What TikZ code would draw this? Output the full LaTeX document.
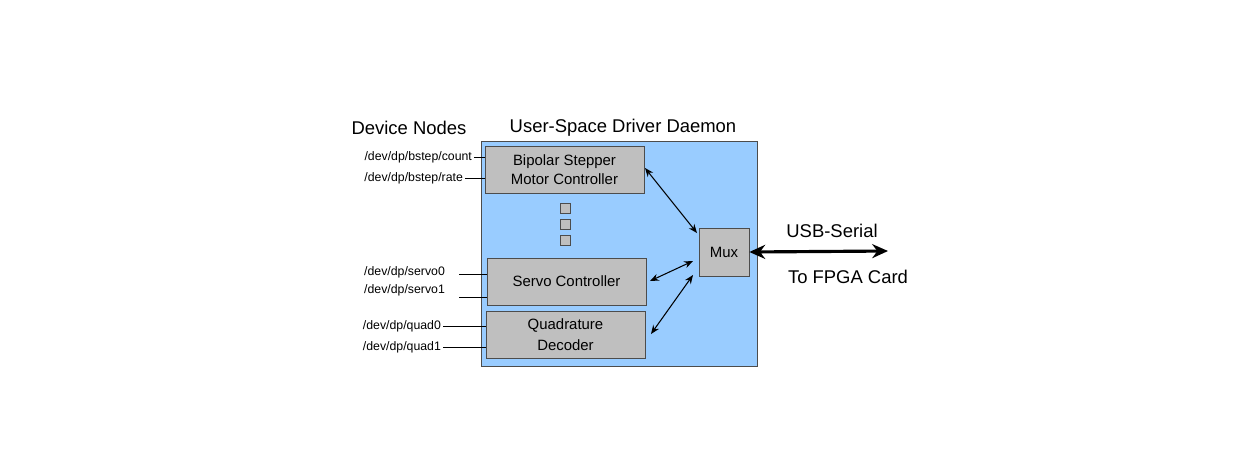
\documentclass[tikz,border=0pt]{standalone}
\usepackage{fontspec}
\setmainfont{Liberation Sans}
\usetikzlibrary{arrows.meta}
\begin{document}
\begin{tikzpicture}[x=0.02cm,y=-0.02cm,
  blk/.style={draw=black!70,fill=black!25,inner sep=0pt,font=\fontsize{8.5}{10}\selectfont,align=center},
  dev/.style={anchor=east,inner sep=1pt,font=\fontsize{7}{8}\selectfont},
  ttl/.style={font=\fontsize{10.5}{12}\selectfont},
  biarrow/.style={{Stealth[length=5pt,width=4pt]}-{Stealth[length=5pt,width=4pt]},thick}]
\useasboundingbox (0,0) rectangle (1251,451);
% daemon box
\draw[black!70,fill={rgb,255:red,153;green,204;blue,255}] (481,141) rectangle (757,366);
\node[ttl] (tdev) at (409,128) {Device Nodes};
\node[ttl] (tdae) at (623,128) {User-Space Driver Daemon};
% blocks
\node[blk,minimum width=159\pgflinewidth] (bip) at (564.5,169.5) {};
\draw[black!70,fill=black!25] (485,146) rectangle (644,193);
\node[font=\fontsize{8.5}{11}\selectfont,align=center] (bipt) at (564.5,169.5) {Bipolar Stepper\\Motor Controller};
\coordinate (bipE) at (644,169.5);
\node[blk,minimum width=3.18cm,minimum height=0.94cm] (servo) at (566.5,281.5) {Servo Controller};
\node[blk,minimum width=3.18cm,minimum height=0.94cm] (quad) at (565.5,334.5) {Quadrature\\[2pt]Decoder};
\node[blk,minimum width=1cm,minimum height=0.96cm] (mux) at (724,252) {Mux};
\foreach \y/\n in {208/a,224/b,240/c}
  \node[blk,minimum size=0.2cm] (dot\n) at (565,\y) {};
% device nodes
\node[dev] (n1) at (474,157) {/dev/dp/bstep/count};
\node[dev] (n2) at (465,178) {/dev/dp/bstep/rate};
\node[dev] (n3) at (447,272) {/dev/dp/servo0};
\node[dev] (n4) at (447,290) {/dev/dp/servo1};
\node[dev] (n5) at (443,326) {/dev/dp/quad0};
\node[dev] (n6) at (443,347) {/dev/dp/quad1};
\coordinate (c1) at (485,157);
\coordinate (c2) at (485,178);
\coordinate (c3a) at (459,274);
\coordinate (c3) at (487,274);
\coordinate (c4a) at (459,297);
\coordinate (c4) at (487,297);
\coordinate (c5) at (486,326);
\coordinate (c6) at (486,347);
\draw (n1) -- (c1);
\draw (n2) -- (c2);
\draw (c3a) -- (c3);
\draw (c4a) -- (c4);
\draw (n5) -- (c5);
\draw (n6) -- (c6);
% links to mux
\coordinate (b1) at (645,168);
\coordinate (m1) at (697,233);
\coordinate (s1) at (650,281);
\coordinate (m2) at (693,261);
\coordinate (q1) at (651,334);
\coordinate (m3) at (693,275);
\draw[biarrow,semithick] (b1) -- (m1);
\draw[biarrow,semithick] (s1) -- (m2);
\draw[biarrow,semithick] (q1) -- (m3);
% usb
\coordinate (usb) at (888,251);
\draw[{Stealth[length=9pt,width=8pt]}-{Stealth[length=9pt,width=8pt]},line width=1.8pt] (mux.east) -- (usb);
\node[ttl] (lusb) at (832,231) {USB-Serial};
\node[ttl] (lfpga) at (848,277) {To FPGA Card};
\end{tikzpicture}
\end{document}
